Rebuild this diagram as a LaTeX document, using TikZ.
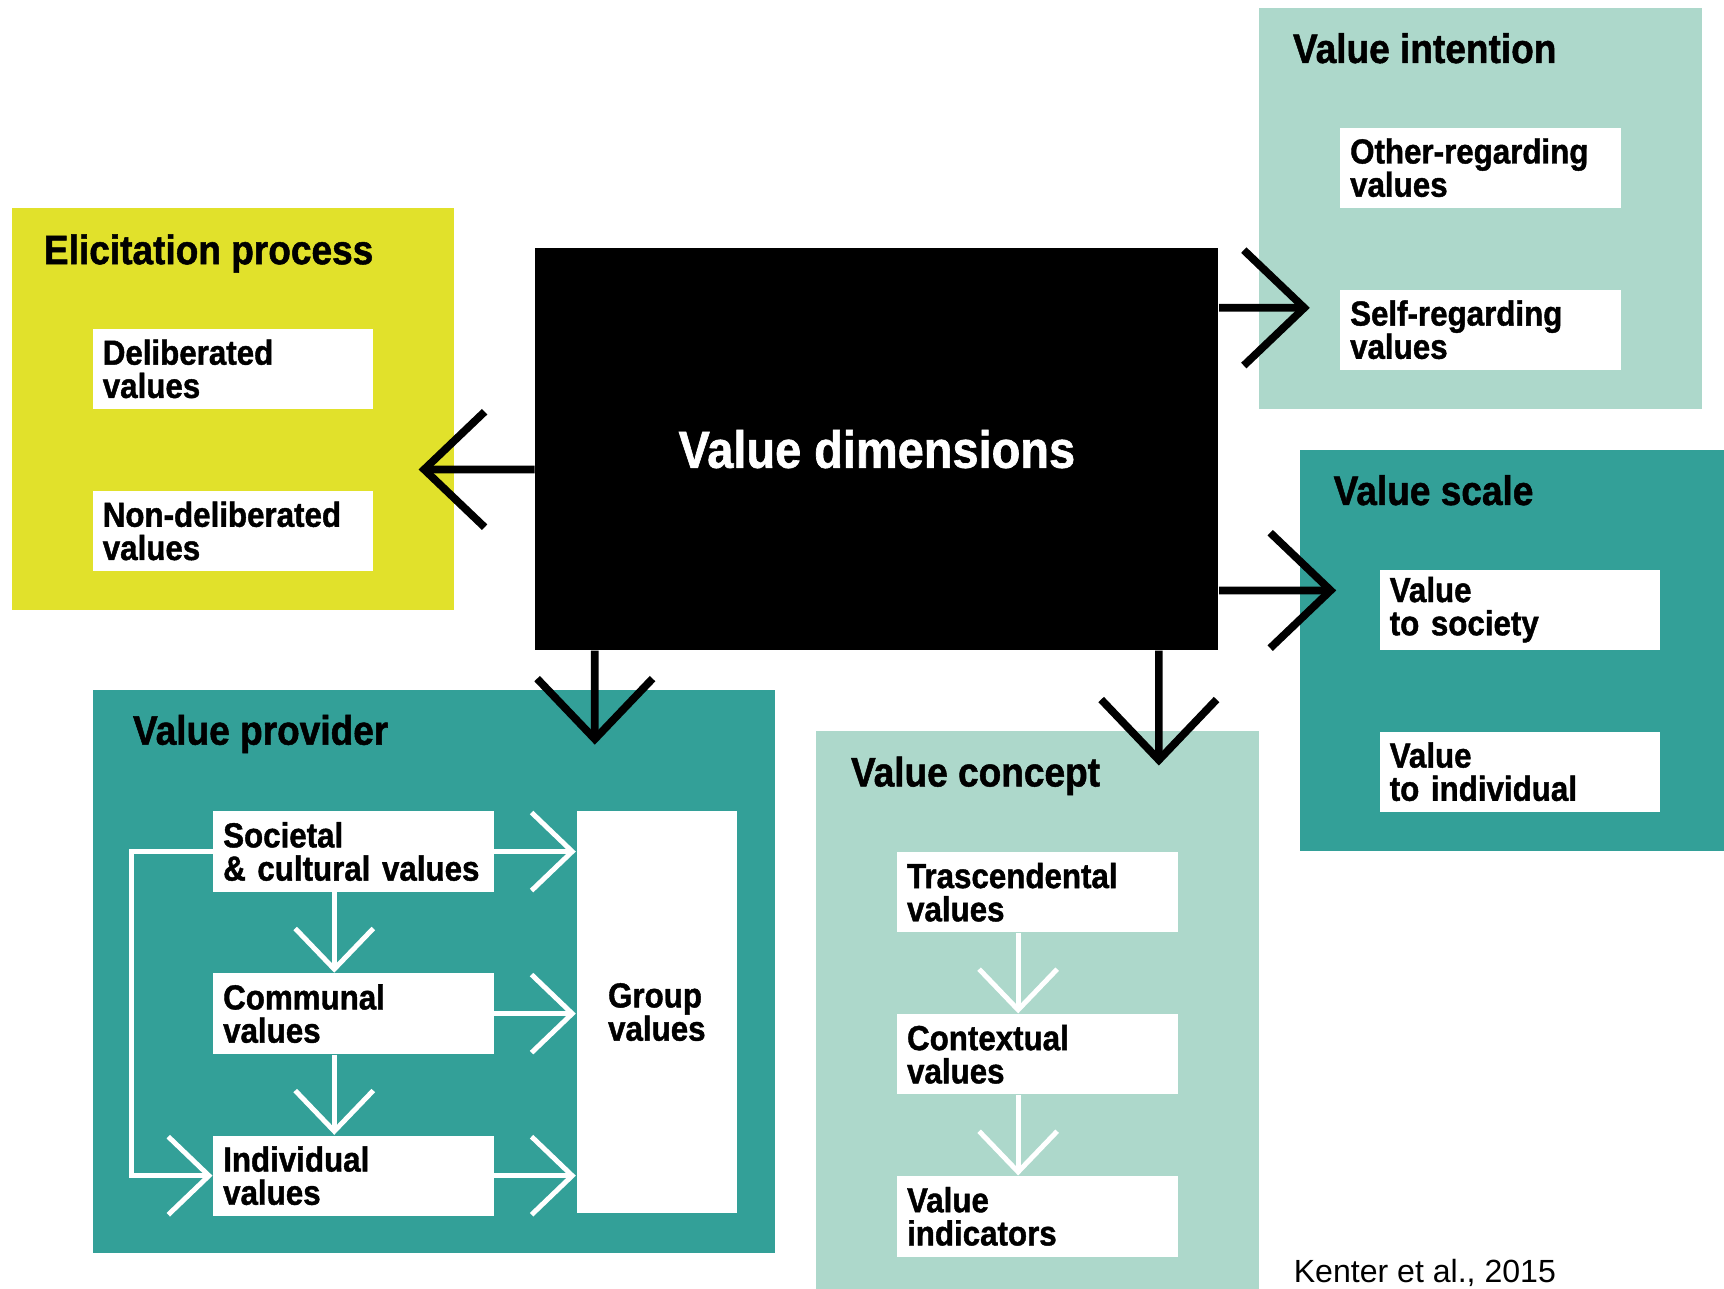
\documentclass[tikz,border=0pt]{standalone}
\usepackage{fontspec}
\setmainfont{Liberation Sans}
\newfontfamily\boxfont{Liberation Sans}[FakeStretch=0.9, BoldFeatures={FakeBold=1.2}]
\usepackage{tikz}
\usetikzlibrary{arrows.meta, positioning, calc}
\definecolor{elicityellow}{HTML}{E1E12B}
\definecolor{paleteal}{HTML}{ADD8CB}
\definecolor{deepteal}{HTML}{33A098}

\begin{document}
\begin{tikzpicture}[
  panel/.style={rectangle, inner sep=0pt, minimum width=4.03cm, minimum height=3.65cm},
  item/.style={rectangle, fill=white, minimum width=2.55cm, minimum height=0.73cm, text width=2.37cm, inner xsep=0.09cm, inner ysep=0pt, align=left, font=\boxfont\bfseries\fontsize{9}{8.6}\selectfont},
  heading/.style={anchor=base west, inner sep=0pt, font=\boxfont\bfseries\fontsize{10.65}{12}\selectfont},
  bigarrow/.style={-{Straight Barb[length=5.5mm, width=10.5mm, sharp]}, line width=0.7mm},
  flow/.style={white, -{Straight Barb[length=3.7mm, width=7.1mm, sharp]}, line width=0.45mm}
]
  \useasboundingbox (0,0) rectangle (15.68,11.72);

  % outer panels
  \node[panel, fill=elicityellow, minimum width=4.02cm, minimum height=3.66cm] (elicit) at (2.12,8.00) {};
  \node[panel, fill=paleteal] (intent) at (13.465,9.825) {};
  \node[panel, fill=deepteal, minimum width=4.01cm] (scale) at (13.825,5.805) {};
  \node[panel, fill=deepteal, minimum width=6.20cm, minimum height=5.12cm] (provider) at (3.95,2.88) {};
  \node[panel, fill=paleteal, minimum height=5.07cm] (concept) at (9.435,2.535) {};

  \node[heading] (elicit-title) at ([shift={(0.29,-0.52)}]elicit.north west) {Elicitation process};
  \node[heading] (intent-title) at ([shift={(0.31,-0.51)}]intent.north west) {Value intention};
  \node[heading] (scale-title) at ([shift={(0.31,-0.51)}]scale.north west) {Value scale};
  \node[heading] (provider-title) at ([shift={(0.36,-0.50)}]provider.north west) {Value provider};
  \node[heading] (concept-title) at ([shift={(0.32,-0.51)}]concept.north west) {Value concept};

  % centre block
  \node[fill=black, text=white, minimum width=6.21cm, minimum height=3.65cm, inner sep=0pt,
        font=\boxfont\bfseries\fontsize{13.5}{16}\selectfont] (vd) at (7.975,7.635) {Value dimensions};

  % items
  \node[item, below=1.10cm of elicit.north] (delib) {Deliberated\\values};
  \node[item, below=0.73cm of delib] (nondelib) {Non-deliberated\\values};

  \node[item, below=1.09cm of intent.north] (other) {Other-regarding\\values};
  \node[item, below=0.73cm of other] (self) {Self-regarding\\values};

  \node[item, below=1.09cm of scale.north] (society) {Value\\to society};
  \node[item, below=0.73cm of society] (toindiv) {Value\\to individual};

  \node[item, below=1.10cm of concept.north] (trans) {Trascendental\\values};
  \node[item, below=0.73cm of trans] (context) {Contextual\\values};
  \node[item, below=0.73cm of context] (indicators) {Value\\indicators};

  \node[item, below right=1.10cm and 1.09cm of provider.north west] (societal) {Societal\\\& cultural values};
  \node[item, below=0.73cm of societal] (communal) {Communal\\values};
  \node[item, below=0.73cm of communal] (indiv) {Individual\\values};
  \node[item, text width=, inner xsep=0pt, minimum width=1.46cm, minimum height=3.65cm,
        below right=0cm and 0.74cm of societal.north east] (group) {Group\\values};

  % black arrows out of the centre block
  \draw[bigarrow] ([yshift=-1.85mm]vd.west) -- ($(elicit.east |- vd.west)+(-0.33,-0.185)$);
  \draw[bigarrow] ([yshift=12.85mm]vd.east) -- ($(intent.west |- vd.east)+(0.47,1.285)$);
  \draw[bigarrow] ([yshift=-12.85mm]vd.east) -- ($(scale.west |- vd.east)+(0.34,-1.285)$);
  \draw[bigarrow] ([xshift=-25.65mm]vd.south) -- ($(provider.north -| vd.south)+(-2.565,-0.50)$);
  \draw[bigarrow] ([xshift=25.65mm]vd.south) -- ($(concept.north -| vd.south)+(2.565,-0.32)$);

  % white arrows inside the panels
  \draw[flow] (societal.east) -- (societal.east -| group.west);
  \draw[flow] (communal.east) -- (communal.east -| group.west);
  \draw[flow] (indiv.east) -- (indiv.east -| group.west);
  \draw[flow] ([xshift=-1.75mm]societal.south) -- ([xshift=-1.75mm]communal.north);
  \draw[flow] ([xshift=-1.75mm]communal.south) -- ([xshift=-1.75mm]indiv.north);
  \draw[flow] (societal.west) -- ++(-0.74,0) |- (indiv.west);
  \draw[flow] ([xshift=-1.75mm]trans.south) -- ([xshift=-1.75mm]context.north);
  \draw[flow] ([xshift=-1.75mm]context.south) -- ([xshift=-1.75mm]indicators.north);

  \node[anchor=base west, inner sep=0pt, font=\fontsize{8.3}{10}\selectfont] (source) at (11.76,0.06) {Kenter et al., 2015};
\end{tikzpicture}
\end{document}
